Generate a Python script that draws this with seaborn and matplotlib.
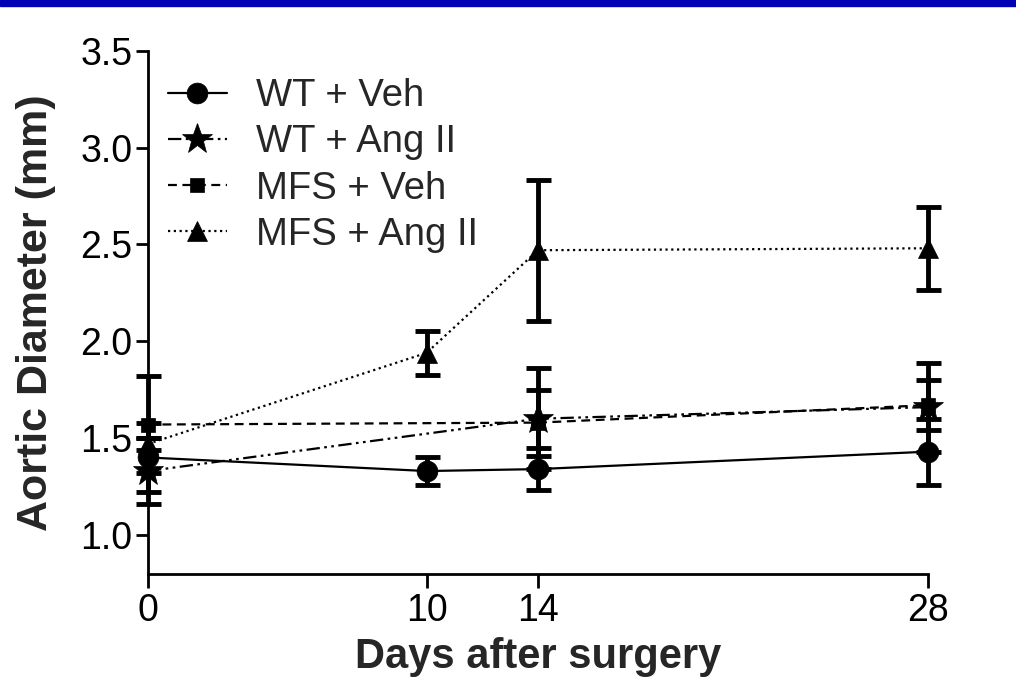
import numpy as np
import pandas as pd
import matplotlib
matplotlib.use("Agg")
import matplotlib.pyplot as plt
from matplotlib.patches import Rectangle
import seaborn as sns

# values (mean, error)
groups = ["WT + Veh", "WT + Ang II", "MFS + Veh", "MFS + Ang II"]

wt_veh_days = [0, 10, 14, 28]
wt_veh_mean = [1.40, 1.33, 1.34, 1.43]
wt_veh_err = [0.18, 0.07, 0.11, 0.17]

wt_ang_days = [0, 14, 28]
wt_ang_mean = [1.33, 1.60, 1.66]
wt_ang_err = [0.17, 0.26, 0.23]

mfs_veh_days = [0, 14, 28]
mfs_veh_mean = [1.57, 1.58, 1.67]
mfs_veh_err = [0.25, 0.17, 0.13]

mfs_ang_days = [0, 10, 14, 28]
mfs_ang_mean = [1.47, 1.94, 2.47, 2.48]
mfs_ang_err = [0.03, 0.115, 0.365, 0.215]

x_ticks = [0, 10, 14, 28]
y_ticks = [1.0, 1.5, 2.0, 2.5, 3.0, 3.5]

series = {
    "WT + Veh": (wt_veh_days, wt_veh_mean, wt_veh_err),
    "WT + Ang II": (wt_ang_days, wt_ang_mean, wt_ang_err),
    "MFS + Veh": (mfs_veh_days, mfs_veh_mean, mfs_veh_err),
    "MFS + Ang II": (mfs_ang_days, mfs_ang_mean, mfs_ang_err),
}

styles = {
    "WT + Veh": dict(marker="o", markersize=15, linestyle="-", linewidth=1.6),
    "WT + Ang II": dict(marker="*", markersize=23, linestyle=(0, (6, 2, 1.2, 2, 1.2, 2)), linewidth=1.6),
    "MFS + Veh": dict(marker="s", markersize=10, linestyle=(0, (4, 2.5)), linewidth=1.6),
    "MFS + Ang II": dict(marker="^", markersize=14, linestyle=(0, (1, 1.6)), linewidth=1.6),
}

sns.set_theme(style="ticks")
plt.rcParams["font.family"] = ["Liberation Sans", "DejaVu Sans"]

fig = plt.figure(figsize=(10.16, 6.95), dpi=100)
ax = fig.add_axes([148 / 1016, 1 - 573.7 / 695, 780 / 1016, 523 / 695])

# blue strip at the top
fig.patches.append(Rectangle((0, 1 - 6 / 695), 1, 6 / 695, transform=fig.transFigure,
                             color="#0000b4", zorder=0))

for name in groups:
    days, mean, err = series[name]
    df = pd.DataFrame({"day": days, "diam": mean})
    sns.lineplot(data=df, x="day", y="diam", ax=ax, color="black", errorbar=None,
                 markeredgecolor="black", markeredgewidth=0.5, label=name,
                 clip_on=False, zorder=3, **styles[name])
    eb = ax.errorbar(days, mean, yerr=err, fmt="none", ecolor="black",
                     elinewidth=3.5, capsize=9, capthick=3.5, zorder=2)
    for art in eb.lines[1] + eb.lines[2]:
        art.set_clip_on(False)

ax.set_xlim(0, 28)
ax.set_ylim(0.8, 3.5)
ax.set_xticks(x_ticks)
ax.set_xticklabels([str(t) for t in x_ticks])
ax.set_yticks(y_ticks)
ax.set_yticklabels([f"{t:.1f}" for t in y_ticks])

for side in ["top", "right"]:
    ax.spines[side].set_visible(False)
for side in ["left", "bottom"]:
    ax.spines[side].set_linewidth(2)
    ax.spines[side].set_color("black")

ax.tick_params(axis="y", length=9, width=2, pad=2, labelsize=27, colors="black")
ax.tick_params(axis="x", length=10, width=2, pad=4, labelsize=27, colors="black")

ax.set_xlabel("Days after surgery", fontsize=30, fontweight="bold", labelpad=6)
ax.set_ylabel("Aortic Diameter (mm)", fontsize=31, fontweight="bold", labelpad=18)

handles, labels = ax.get_legend_handles_labels()
ax.legend(handles, labels, loc="upper left", bbox_to_anchor=(0.025, 0.948),
          frameon=False, fontsize=27.5, handlelength=1.55, handletextpad=0.78,
          labelspacing=0.27, borderpad=0, borderaxespad=0, numpoints=1)

fig.savefig("out.png", dpi=100)
